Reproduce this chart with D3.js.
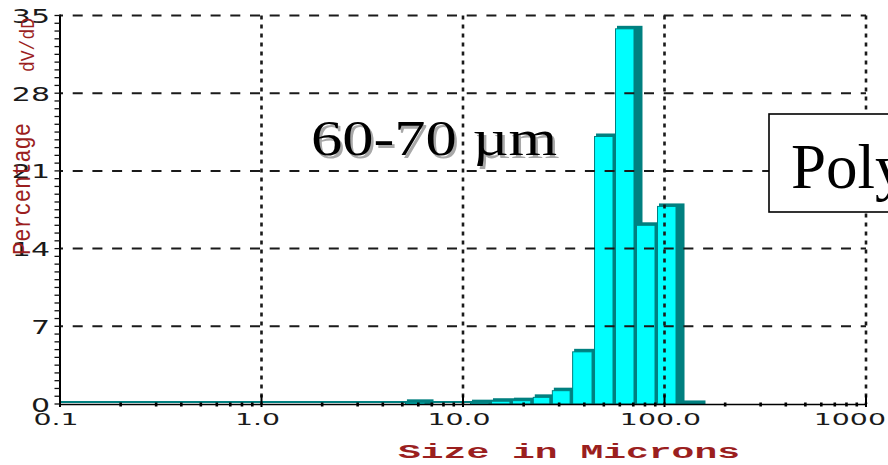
<!DOCTYPE html>
<html><head><meta charset="utf-8">
<script src="https://cdn.jsdelivr.net/npm/d3@7"></script>
<style>body{margin:0;background:#fff}svg{display:block}</style>
</head><body><svg id="c" width="888" height="465"></svg>
<script>
// ---- data ----
const binLower = [5.15, 10.83, 13.77, 17.5, 22.2, 27.6, 34.8, 44.7, 56.8, 72.2, 91.8, 116.7];
const binUpper = [6.63, 13.77, 17.5, 22.2, 27.6, 34.8, 44.7, 56.8, 72.2, 91.8, 116.7, 148.3];
const percent  = [0.15, 0.12, 0.25, 0.3, 0.6, 1.2, 4.7, 24.1, 33.8, 16.1, 17.8, 0.05];
const xTickValues = [0.1, 1, 10, 100, 1000];
const xTickLabels = ["0.1", "1.0", "10.0", "100.0", "1000"];
const yTickValues = [0, 7, 14, 21, 28, 35];
const yTickLabels = ["0", "7", "14", "21", "28", "35"];
const xTitle = "Size in Microns";
const yTitle1 = "Percentage";
const yTitle2 = "dV/dD";
const note = "60-70 \u00B5m";
const boxText = "Poly";

const svg = d3.select("#c");
svg.append("rect").attr("width", 888).attr("height", 465).attr("fill", "#fff");
const x = d3.scaleLog().domain([0.1, 1000]).range([60, 866]);
const y = d3.scaleLinear().domain([0, 35]).range([404, 15.5]);
const base = y(0);
const TEAL = "#008080", CYAN = "#00ffff", RED = "#9b1f1f";

// teal baseline under the bars
svg.append("line").attr("x1", x(0.1)).attr("x2", x(binUpper[binUpper.length - 1]))
  .attr("y1", base - 2).attr("y2", base - 2).attr("stroke", TEAL).attr("stroke-width", 2);

// bars (3D look: teal depth, cyan face)
const bars = svg.append("g");
percent.forEach((v, i) => {
  const x0 = x(binLower[i]), x1 = x(binUpper[i]);
  const faceR = x1 - 2, top = y(v);
  bars.append("rect").attr("x", x0 + 2).attr("y", top - 3)
    .attr("width", faceR + 8.5 - (x0 + 2)).attr("height", base - top + 3).attr("fill", TEAL);
  bars.append("rect").attr("x", x0 + 0.5).attr("y", top)
    .attr("width", faceR - x0 - 0.5).attr("height", Math.max(0, base - top))
    .attr("fill", CYAN).attr("stroke", TEAL).attr("stroke-width", 1);
});

// grid lines
const grid = svg.append("g");
yTickValues.filter(v => v > 0).forEach(v => {
  grid.append("line").attr("x1", x(0.1)).attr("x2", x(1000)).attr("y1", y(v)).attr("y2", y(v))
    .attr("stroke", "#1a1a1a").attr("stroke-width", 2)
    .attr("stroke-dasharray", "10,9.7").attr("stroke-dashoffset", 7);
});
xTickValues.filter(v => v > 0.1).forEach(v => {
  grid.append("line").attr("x1", x(v)).attr("x2", x(v)).attr("y1", y(35)).attr("y2", base)
    .attr("stroke", "#1a1a1a").attr("stroke-width", 2.6)
    .attr("stroke-dasharray", "4,5");
});

// axes
const ax = svg.append("g");
ax.append("line").attr("x1", x(0.1)).attr("x2", x(0.1)).attr("y1", y(35) - 1).attr("y2", base + 1)
  .attr("stroke", "#000").attr("stroke-width", 2);
ax.append("line").attr("x1", x(0.1) - 1).attr("x2", x(1000)).attr("y1", base + 0.5).attr("y2", base + 0.5)
  .attr("stroke", "#000").attr("stroke-width", 1.6);
d3.range(0, 35.001, 0.7).forEach(v => {
  ax.append("line").attr("x1", x(0.1) - 5.5).attr("x2", x(0.1)).attr("y1", y(v)).attr("y2", y(v))
    .attr("stroke", "#111").attr("stroke-width", 1.3);
});
[0.1, 1, 10, 100].forEach(d => {
  d3.range(2, 10).forEach(m => {
    ax.append("rect").attr("x", x(d * m) - 1.3).attr("y", base - 1.5).attr("width", 2.6).attr("height", 4)
      .attr("fill", "#000");
  });
});
xTickValues.forEach(v => {
  ax.append("line").attr("x1", x(v)).attr("x2", x(v)).attr("y1", base - 9).attr("y2", base + 3)
    .attr("stroke", "#000").attr("stroke-width", 2);
});

// tick labels
function stretch(sel, f) {
  sel.each(function () {
    const w = this.getComputedTextLength();
    d3.select(this).attr("textLength", w * f).attr("lengthAdjust", "spacingAndGlyphs");
  });
}
const yl = svg.append("g").selectAll("text").data(yTickValues).join("text")
  .attr("x", 50).attr("y", v => y(v) + 7.5).attr("text-anchor", "end")
  .attr("font-family", "DejaVu Sans").attr("font-size", 20).attr("fill", "#1a1a1a")
  .text((v, i) => yTickLabels[i]);
stretch(yl, 1.5);

const xl = svg.append("g").selectAll("text").data(xTickValues).join("text")
  .attr("y", 425).attr("font-family", "DejaVu Sans").attr("font-size", 16.5).attr("fill", "#1a1a1a")
  .text((v, i) => xTickLabels[i]);
xl.each(function (v) {
  const w = this.getComputedTextLength() * 1.72;
  let left = x(v) - 4 - w / 2;
  if (left + w > 886) left = 886 - w;
  d3.select(this).attr("x", left).attr("textLength", w).attr("lengthAdjust", "spacingAndGlyphs");
});

// axis titles
svg.append("text").attr("x", 398).attr("y", 458).attr("font-family", "Liberation Mono")
  .attr("font-weight", "bold").attr("font-size", 20).attr("fill", RED)
  .attr("textLength", 342).attr("lengthAdjust", "spacingAndGlyphs").text(xTitle);
svg.append("text").attr("transform", "translate(30,255) rotate(-90)")
  .attr("font-family", "Liberation Mono").attr("font-size", 25).attr("fill", RED)
  .attr("textLength", 132).attr("lengthAdjust", "spacingAndGlyphs").text(yTitle1);
svg.append("text").attr("transform", "translate(34,72) rotate(-90)")
  .attr("font-family", "Liberation Mono").attr("font-size", 20).attr("fill", RED)
  .attr("textLength", 54).attr("lengthAdjust", "spacingAndGlyphs").text(yTitle2);

// annotation with shadow
[["#a8a8a8", 2.5], ["#000", 0]].forEach(([c, o]) => {
  svg.append("text").attr("x", 311 + o).attr("y", 155 + o)
    .attr("font-family", "Liberation Serif").attr("font-size", 50).attr("fill", c)
    .attr("textLength", 246).attr("lengthAdjust", "spacingAndGlyphs").text(note);
});

// box label
svg.append("rect").attr("x", 769).attr("y", 114).attr("width", 300).attr("height", 98)
  .attr("fill", "#fff").attr("stroke", "#000").attr("stroke-width", 1.6);
svg.append("text").attr("x", 791).attr("y", 188).attr("font-family", "Liberation Serif")
  .attr("font-size", 63).attr("fill", "#000").text(boxText);
</script></body></html>
